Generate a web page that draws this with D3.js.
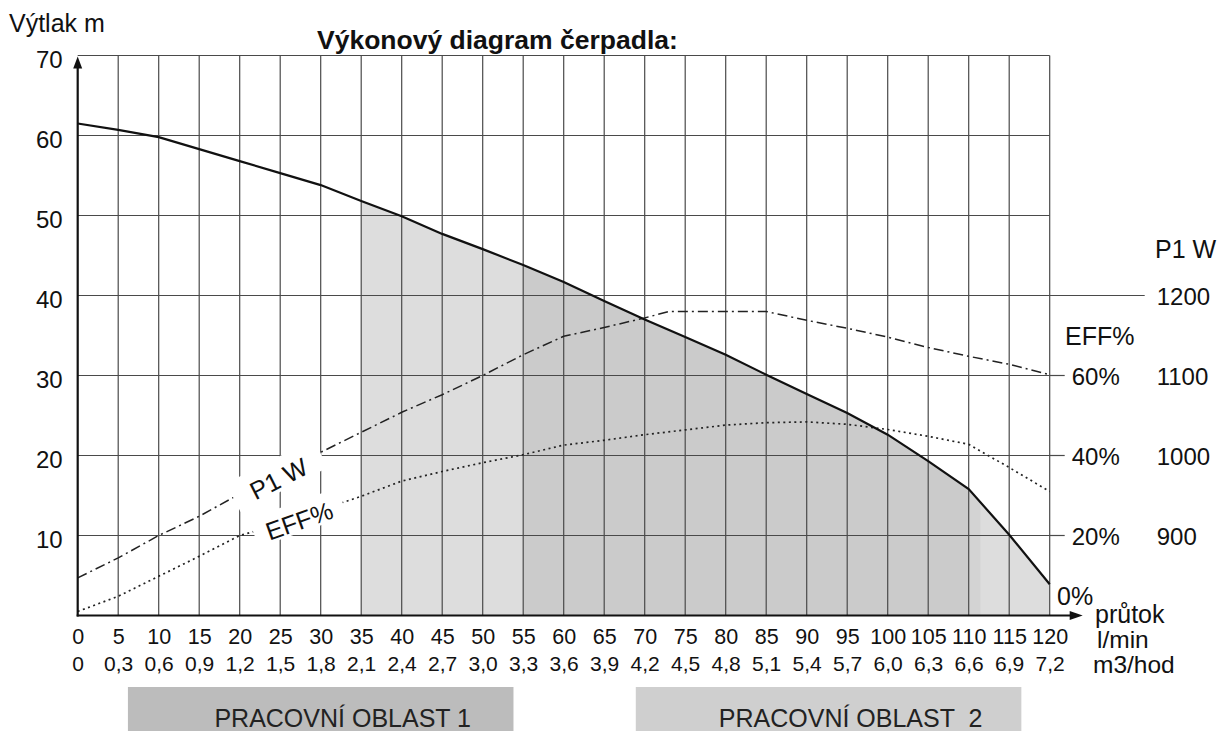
<!DOCTYPE html>
<html>
<head>
<meta charset="utf-8">
<script src="https://cdn.jsdelivr.net/npm/d3@7"></script>
<style>
  body { margin: 0; background: #fff; }
  svg { display: block; font-family: "Liberation Sans", Arial, sans-serif; }
</style>
</head>
<body>
<div id="chart"></div>
<script>
// flow in l/min, shared by head and efficiency curves
const flow = [0, 5, 10, 15, 20, 25, 30, 35, 40, 45, 50, 55, 60, 65, 70, 75, 80, 85, 90, 95, 100, 105, 110, 115, 120];
// Výtlak (m)
const head = [61.5, 60.7, 59.8, 58.3, 56.8, 55.3, 53.8, 51.8, 49.9, 47.7, 45.8, 43.8, 41.7, 39.3, 37.0, 34.8, 32.6, 30.1, 27.7, 25.3, 22.6, 19.3, 15.8, 10.1, 3.9];
// EFF %
const eff = [1, 4.8, 9.8, 14.8, 20, 22.8, 26.4, 29.8, 33.6, 36, 38.2, 40.2, 42.6, 43.8, 45.2, 46.4, 47.6, 48.2, 48.4, 47.8, 46.5, 44.8, 42.8, 37, 31];
// P1 W
const p1Flow = [0, 5, 10, 15, 20, 25, 30, 35, 40, 45, 50, 55, 60, 65, 70, 73, 85, 90, 95, 100, 105, 110, 115, 120];
const p1 = [847, 872, 900, 924, 952, 978, 1004, 1029, 1054, 1076, 1100, 1126, 1149, 1160, 1172, 1180, 1180, 1169, 1159, 1148, 1135, 1124, 1114, 1101];

// axis ticks
const headTicks = [10, 20, 30, 40, 50, 60, 70];
const effTicks = [20, 40, 60];
const p1Ticks = [900, 1000, 1100, 1200];
const m3Labels = ["0", "0,3", "0,6", "0,9", "1,2", "1,5", "1,8", "2,1", "2,4", "2,7", "3,0", "3,3", "3,6", "3,9",
  "4,2", "4,5", "4,8", "5,1", "5,4", "5,7", "6,0", "6,3", "6,6", "6,9", "7,2"];

// shaded bands under the curve (l/min)
const bandStart = [35, 55, 110, 111.5];
const bandEnd = [55, 110, 111.5, 120];
const bandFill = ["#dddddd", "#cbcbcb", "#d3d3d3", "#dddddd"];

// working areas (l/min)
const areaNames = ["PRACOVNÍ OBLAST 1", "PRACOVNÍ OBLAST  2"];
const areaStart = [6.2, 68.9];
const areaEnd = [53.8, 116.5];

const W = 1221, H = 731;
const svg = d3.select("#chart").append("svg")
  .attr("width", W).attr("height", H)
  .attr("viewBox", [0, 0, W, H]);

const x = d3.scaleLinear().domain([0, 120]).range([77.7, 1049.7]);
const y = d3.scaleLinear().domain([0, 70]).range([615.5, 55.5]);
const yEff = d3.scaleLinear().domain([0, 140]).range(y.range());
const yP1 = d3.scaleLinear().domain([800, 1500]).range(y.range());

// area under the head curve, used as clip for the bands
const underHead = d3.area()
  .x((d, i) => x(flow[i]))
  .y0(y(0))
  .y1((d) => y(d));
svg.append("clipPath").attr("id", "under")
  .append("path").attr("d", underHead(head));

svg.append("g")
  .attr("clip-path", "url(#under)")
  .selectAll("rect")
  .data(bandStart)
  .join("rect")
  .attr("x", (d) => x(d))
  .attr("width", (d, i) => x(bandEnd[i]) - x(d))
  .attr("y", y(70))
  .attr("height", y(0) - y(70))
  .attr("fill", (d, i) => bandFill[i]);

// grid
const grid = svg.append("g").attr("stroke", "#4a4a4a").attr("stroke-width", 1.2);
grid.selectAll("line.v")
  .data(flow.slice(1))
  .join("line")
  .attr("class", "v")
  .attr("x1", (d) => x(d)).attr("x2", (d) => x(d))
  .attr("y1", y(0)).attr("y2", y(70));
grid.selectAll("line.h")
  .data(headTicks)
  .join("line")
  .attr("class", "h")
  .attr("x1", x(0)).attr("x2", x(120))
  .attr("y1", (d) => y(d)).attr("y2", (d) => y(d));
// right side tick marks
grid.selectAll("line.e")
  .data(effTicks)
  .join("line")
  .attr("class", "e")
  .attr("x1", x(120)).attr("x2", x(120) + 15)
  .attr("y1", (d) => yEff(d)).attr("y2", (d) => yEff(d));
grid.append("line")
  .attr("x1", x(120)).attr("x2", x(120) + 95)
  .attr("y1", yP1(1200)).attr("y2", yP1(1200));

// P1 and EFF curves
svg.append("path")
  .attr("d", d3.line().x((d, i) => x(p1Flow[i])).y((d) => yP1(d))(p1))
  .attr("fill", "none")
  .attr("stroke", "#222")
  .attr("stroke-width", 1.5)
  .attr("stroke-dasharray", "10,4,2,4");
svg.append("path")
  .attr("d", d3.line().x((d, i) => x(flow[i])).y((d) => yEff(d))(eff))
  .attr("fill", "none")
  .attr("stroke", "#222")
  .attr("stroke-width", 1.7)
  .attr("stroke-dasharray", "2,3.5");

// in-line curve labels with white background
const curveLabels = [
  { text: "P1 W", cx: x(24.6), cy: yP1(975), angle: -27, w: 98, h: 32 },
  { text: "EFF%", cx: x(27.2), cy: yEff(24.5), angle: -19.5, w: 94, h: 30 }
];
const cl = svg.append("g").selectAll("g")
  .data(curveLabels)
  .join("g")
  .attr("transform", (d) => `translate(${d.cx},${d.cy}) rotate(${d.angle})`);
cl.append("rect")
  .attr("x", (d) => -d.w / 2).attr("y", (d) => -d.h / 2)
  .attr("width", (d) => d.w).attr("height", (d) => d.h)
  .attr("fill", "#fff");
cl.append("text")
  .attr("text-anchor", "middle")
  .attr("dy", "0.5em")
  .attr("font-size", 25)
  .attr("fill", "#111")
  .text((d) => d.text);

// head curve
svg.append("path")
  .attr("d", d3.line().x((d, i) => x(flow[i])).y((d) => y(d))(head))
  .attr("fill", "none")
  .attr("stroke", "#111")
  .attr("stroke-width", 2.2);

// axis lines with arrows
svg.append("line")
  .attr("x1", x(0)).attr("x2", x(0))
  .attr("y1", y(0) + 1).attr("y2", y(70) + 6)
  .attr("stroke", "#111").attr("stroke-width", 2.2);
svg.append("path")
  .attr("d", `M${x(0)},${y(70) + 1}L${x(0) - 4.5},${y(70) + 13}L${x(0) + 4.5},${y(70) + 13}Z`)
  .attr("fill", "#111");
svg.append("line")
  .attr("x1", x(0) - 1).attr("x2", x(120) + 24)
  .attr("y1", y(0)).attr("y2", y(0))
  .attr("stroke", "#111").attr("stroke-width", 2.2);
svg.append("path")
  .attr("d", `M${x(120) + 33},${y(0)}L${x(120) + 20},${y(0) - 4.5}L${x(120) + 20},${y(0) + 4.5}Z`)
  .attr("fill", "#111");

// left axis
const yAxis = svg.append("g")
  .attr("transform", `translate(${x(0)},0)`)
  .call(d3.axisLeft(y).tickValues(headTicks).tickSize(0).tickPadding(15));
yAxis.select(".domain").remove();
yAxis.attr("font-family", null).attr("font-size", 24).attr("color", "#111");
yAxis.selectAll("text").attr("dy", "0.5em");

// right axes
const effAxis = svg.append("g")
  .attr("transform", `translate(${x(120) + 22},0)`)
  .call(d3.axisRight(yEff).tickValues(effTicks).tickSize(0).tickPadding(0).tickFormat((d) => d + "%"));
effAxis.select(".domain").remove();
effAxis.attr("font-family", null).attr("font-size", 24).attr("color", "#111");
effAxis.selectAll("text").attr("dy", "0.36em");

const p1Axis = svg.append("g")
  .attr("transform", `translate(${x(120) + 107},0)`)
  .call(d3.axisRight(yP1).tickValues(p1Ticks).tickSize(0).tickPadding(0).tickFormat(d3.format("d")));
p1Axis.select(".domain").remove();
p1Axis.attr("font-family", null).attr("font-size", 24).attr("color", "#111");
p1Axis.selectAll("text").attr("dy", "0.36em");

// bottom axes
const xAxis = svg.append("g")
  .attr("transform", `translate(0,${y(0)})`)
  .call(d3.axisBottom(x).tickValues(flow).tickSize(0).tickPadding(13));
xAxis.select(".domain").remove();
xAxis.attr("font-family", null).attr("font-size", 21.5).attr("color", "#111");

const m3Axis = svg.append("g")
  .attr("transform", `translate(0,${y(0)})`)
  .call(d3.axisBottom(x).tickValues(flow).tickSize(0).tickPadding(41).tickFormat((d, i) => m3Labels[i]));
m3Axis.select(".domain").remove();
m3Axis.attr("font-family", null).attr("font-size", 21).attr("color", "#111");

// text labels
const labels = [
  { t: "Výtlak m", x: 9, y: 32, s: 25, b: false },
  { t: "Výkonový diagram čerpadla:", x: 317, y: 49, s: 26.5, b: true },
  { t: "P1 W", x: 1155, y: 258, s: 25, b: false },
  { t: "EFF%", x: 1065, y: 345, s: 25, b: false },
  { t: "0%", x: 1057, y: 605, s: 25, b: false },
  { t: "průtok", x: 1095, y: 623, s: 25, b: false },
  { t: "l/min", x: 1097, y: 648, s: 24.5, b: false },
  { t: "m3/hod", x: 1093, y: 673, s: 24.5, b: false }
];
svg.append("g").selectAll("text")
  .data(labels)
  .join("text")
  .attr("x", (d) => d.x).attr("y", (d) => d.y)
  .attr("font-size", (d) => d.s)
  .attr("font-weight", (d) => (d.b ? "bold" : "normal"))
  .attr("fill", "#111")
  .text((d) => d.t);

// working area boxes
const areaFill = ["#bcbcbc", "#cfcfcf"];
const ag = svg.append("g").selectAll("g")
  .data(areaNames)
  .join("g");
ag.append("rect")
  .attr("x", (d, i) => x(areaStart[i]))
  .attr("width", (d, i) => x(areaEnd[i]) - x(areaStart[i]))
  .attr("y", 687).attr("height", 50)
  .attr("fill", (d, i) => areaFill[i]);
ag.append("text")
  .attr("x", (d, i) => (x(areaStart[i]) + x(areaEnd[i])) / 2 + 22)
  .attr("y", 727)
  .attr("text-anchor", "middle")
  .attr("font-size", 25)
  .attr("fill", "#222")
  .style("white-space", "pre")
  .text((d) => d);
</script>
</body>
</html>
